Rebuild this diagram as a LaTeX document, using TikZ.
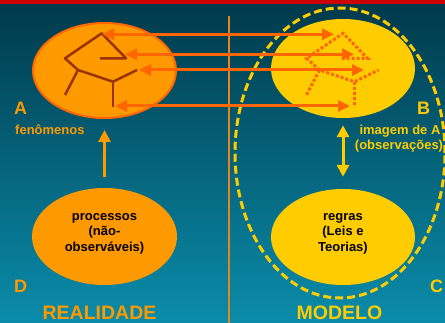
\documentclass[tikz,border=0pt]{standalone}
\usepackage{fontspec}
\setmainfont{Liberation Sans}
\usetikzlibrary{shapes.geometric,arrows.meta}
\definecolor{bgtop}{HTML}{003A4B}
\definecolor{bgbot}{HTML}{0A8CAA}
\definecolor{redbar}{HTML}{CC0000}
\definecolor{orA}{HTML}{FF9900}
\definecolor{orB}{HTML}{FF6600}
\definecolor{yel}{HTML}{FFCC00}
\definecolor{brown}{HTML}{993300}
\definecolor{vline}{HTML}{E8841C}
\tikzset{
  oval/.style={ellipse, inner sep=0pt},
  dbl/.style={draw=orB, line width=3pt, {Triangle[length=12pt,width=11pt]}-{Triangle[length=12pt,width=11pt]}},
  fig/.style={draw=brown, line width=2.5pt},
  dotfig/.style={draw=orB, line width=3pt, dash pattern=on 3pt off 2pt},
  biglab/.style={inner sep=0pt, anchor=base west, font=\fontsize{18}{20}\selectfont\bfseries},
  title/.style={inner sep=0pt, anchor=base, font=\fontsize{19.5}{22}\selectfont\bfseries},
  small/.style={inner sep=0pt, font=\fontsize{13}{15.3}\selectfont\bfseries},
  intext/.style={small, align=center, text=black, text height=9.5pt, text depth=0pt}
}
\begin{document}
\begin{tikzpicture}[x=1pt,y=-1pt]
\useasboundingbox (0,0) rectangle (445,323);
\shade[top color=bgtop, bottom color=bgbot] (0,4) rectangle (445,323);
\fill[redbar] (0,0) rectangle (445,4);
\draw[vline, line width=2pt] (229.3,16) -- (229.3,323);

% ellipses
\node[oval, fill=orA, draw=orB, line width=2pt, minimum width=143pt, minimum height=95pt] (A) at (104.5,70.5) {};
\node[oval, fill=yel, minimum width=144pt, minimum height=99pt] (B) at (343,68.5) {};
\node[oval, fill=orA, minimum width=145pt, minimum height=97pt] (D) at (104.5,236.5) {};
\node[oval, fill=yel, minimum width=144pt, minimum height=96pt] (C) at (343,237) {};
\node[oval, draw=yel, line width=3pt, dash pattern=on 8pt off 4pt, minimum width=210pt, minimum height=290pt] (M) at (340,153) {};

% figure in A
\draw[fig, line join=round] (100,58.3) -- (126,58.3) -- (101.7,33.3) -- (65,58.3) -- (78,70) -- (113,81.7) -- (137,70);
\draw[fig] (78,70) -- (65,95);
\draw[fig] (113,81.7) -- (113,106.7);

% dotted figure in B
\begin{scope}[xshift=241.5pt]
\draw[dotfig] (100,58.3) -- (126,58.3) -- (101.7,33.3) -- (65,58.3) -- (78,70) -- (113,81.7) -- (137,70);
\draw[dotfig] (78,70) -- (65,95);
\draw[dotfig] (113,81.7) -- (113,106.7);
\end{scope}

% arrow end points
\coordinate (a1) at (102,34.3); \coordinate (b1) at (334,34.3);
\coordinate (a2) at (125,54.3); \coordinate (b2) at (354,54.3);
\coordinate (a3) at (139,70);   \coordinate (b3) at (364,70);
\coordinate (a4) at (115,106);  \coordinate (b4) at (350,106);
\draw[dbl] (a1) -- (b1);
\draw[dbl] (a2) -- (b2);
\draw[dbl] (a3) -- (b3);
\draw[dbl] (a4) -- (b4);

\draw[orA, line width=3pt, -{Triangle[length=12pt,width=12pt]}, shorten <=11pt, shorten >=11pt] (D.north) -- (A.south);
\draw[yel, line width=3pt, {Triangle[length=12pt,width=12pt]}-{Triangle[length=12pt,width=12pt]}, shorten <=7pt, shorten >=12pt] (B.south) -- (C.north);

% labels
\node[biglab, text=orA] (lA) at (14,115) {A};
\node[biglab, text=orA] (lD) at (14,293) {D};
\node[biglab, text=yel] (lB) at (417,115) {B};
\node[biglab, text=yel] (lC) at (430,293) {C};
\node[small, text=orA, anchor=base west] (fen) at (15,135) {fenômenos};
\node[small, text=yel, anchor=base] (im1) at (400,135) {imagem de A};
\node[small, text=yel, anchor=base] (im2) at (399,150) {(observações)};
\node[intext] (tD) at (104.5,246.5) {processos\\(não-\\observáveis)};
\node[intext] (tC) at (343,246.5) {regras\\(Leis e\\Teorias)};
\node[title, text=orA] (real) at (99.5,320) {REALIDADE};
\node[title, text=yel] (mod) at (339.5,320) {MODELO};
\end{tikzpicture}
\end{document}
